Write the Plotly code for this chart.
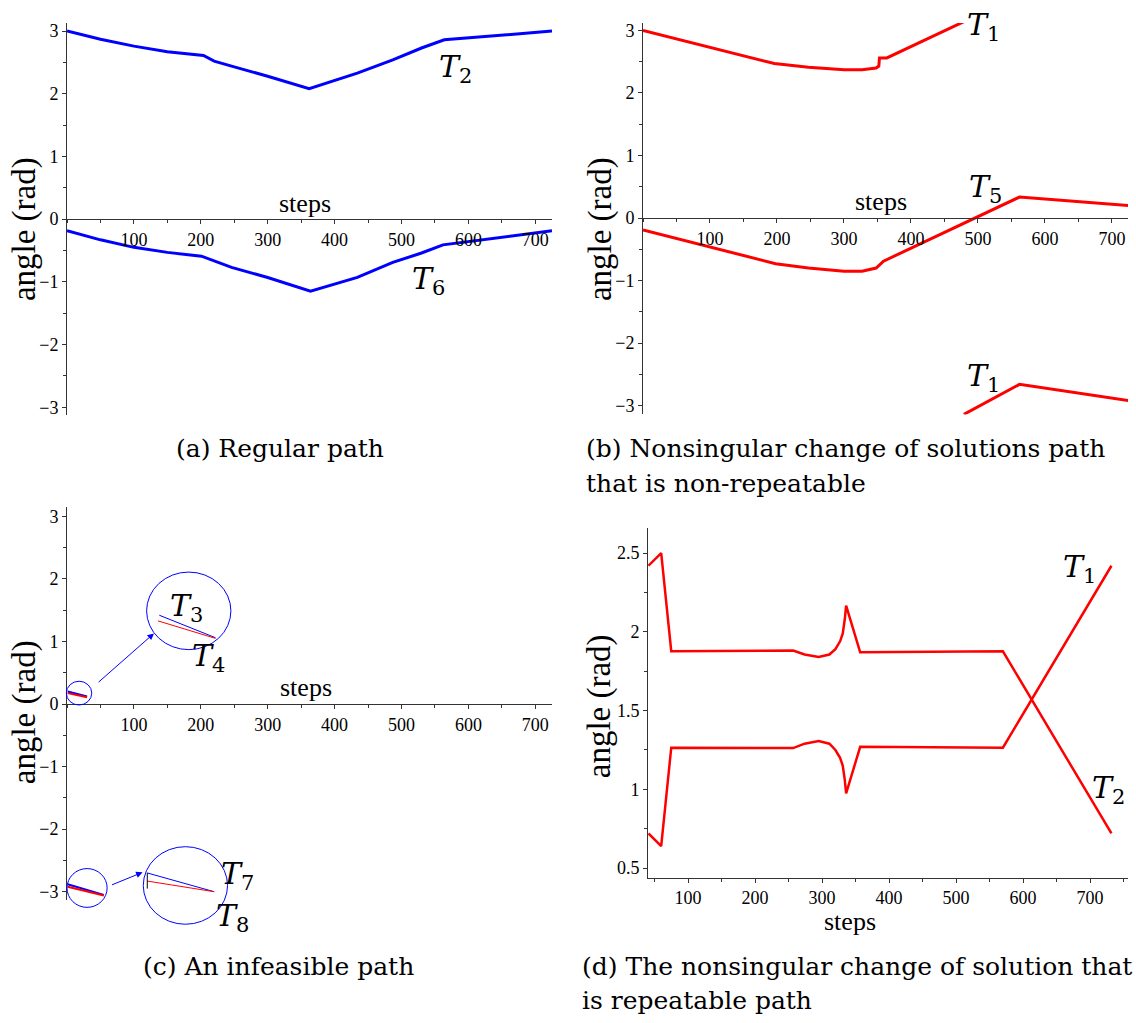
import plotly.graph_objects as go

W, H = 1136, 1023
BLUE = "#0000ff"
RED = "#ff0000"
SERIF = "Liberation Serif"
CAP_FONT = "DejaVu Serif"

# (a) regular path
a_t2_steps = [0, 50, 100, 150, 204, 220, 246, 284, 300, 362, 434, 487, 530, 564, 725]
a_t2 = [3.0, 2.87, 2.76, 2.67, 2.61, 2.52, 2.44, 2.33, 2.28, 2.08, 2.33, 2.54, 2.73, 2.86, 3.0]
a_t6_steps = [0, 50, 100, 150, 201, 246, 300, 364, 434, 487, 530, 562, 725]
a_t6 = [-0.185, -0.33, -0.45, -0.53, -0.59, -0.77, -0.93, -1.15, -0.93, -0.69, -0.54, -0.41, -0.185]

# (b) non-repeatable change of solutions
b_t1_steps = [0, 196, 247, 300, 327, 348, 352, 353, 364, 479]
b_t1 = [3.0, 2.47, 2.41, 2.37, 2.37, 2.40, 2.43, 2.56, 2.56, 3.14]
b_t5_steps = [0, 198, 247, 300, 327, 348, 359, 562, 725]
b_t5 = [-0.19, -0.73, -0.80, -0.85, -0.85, -0.80, -0.69, 0.335, 0.2]
b_t1w_steps = [479, 562, 725]
b_t1w = [-3.14, -2.66, -2.92]

# (c) infeasible path: short segments and their magnified copies
c_seg_steps = [1, 30]
c_t3 = [0.20, 0.12]
c_t4 = [0.175, 0.11]
c_t3_zoom_steps = [138, 222]
c_t3_zoom = [1.42, 1.06]
c_t4_zoom_steps = [136, 222]
c_t4_zoom = [1.33, 1.05]
c_low_steps = [1, 55]
c_t7 = [-2.88, -3.05]
c_t8 = [-2.92, -3.06]
c_low_zoom_steps = [120, 220]
c_t7_zoom = [-2.70, -3.0]
c_t8_zoom = [-2.83, -3.0]
c_mark_steps = [120, 120]
c_mark = [-2.70, -2.95]
# magnifier circles: centre step, centre angle, radius in steps, radius in rad
c_circles = [(18, 0.175, 19, 0.19), (182, 1.49, 63, 0.62),
             (30, -2.94, 30, 0.31), (177, -2.90, 63, 0.62)]
# arrows: tail (step, angle) -> head (step, angle)
c_arrows = [((45, 0.33), (130, 1.13)), ((65, -2.90), (113, -2.69))]

# (d) repeatable change of solutions
d_steps = [41, 60, 75, 257, 274, 295, 311, 320, 327, 331, 334, 336, 357, 570, 732]
d_t1 = [2.42, 2.50, 1.877, 1.881, 1.856, 1.84, 1.856, 1.89, 1.94, 1.99, 2.08, 2.166, 1.87, 1.877, 0.72]
d_t2 = [0.72, 0.64, 1.265, 1.262, 1.29, 1.307, 1.29, 1.25, 1.20, 1.15, 1.06, 0.975, 1.27, 1.265, 2.42]

step_ticks = [100, 200, 300, 400, 500, 600, 700]

# panel boxes in pixels: left, right, top, bottom, x range, y range
panels = {
    "": (67, 552, 21, 415, [0, 725], [-3.13, 3.13]),
    "2": (643, 1128, 21, 414, [0, 724], [-3.14, 3.12]),
    "3": (67, 552, 507, 902, [0, 725], [-3.14, 3.15]),
    "4": (648, 1128, 528, 879, [40.3, 756.7], [0.44, 2.66]),
}


def to_paper(p, x, y):
    l, r, t, b, xr, yr = panels[p]
    px = l + (x - xr[0]) / (xr[1] - xr[0]) * (r - l)
    py = b - (y - yr[0]) / (yr[1] - yr[0]) * (b - t)
    return px / W, 1 - py / H


fig = go.Figure()


def line(x, y, color, width, p):
    fig.add_trace(go.Scatter(x=x, y=y, mode="lines", line=dict(color=color, width=width),
                             xaxis="x" + p, yaxis="y" + p, hoverinfo="skip", showlegend=False))


line(a_t2_steps, a_t2, BLUE, 3, "")
line(a_t6_steps, a_t6, BLUE, 3, "")
line(b_t1_steps, b_t1, RED, 3, "2")
line(b_t5_steps, b_t5, RED, 3, "2")
line(b_t1w_steps, b_t1w, RED, 3, "2")
line(c_seg_steps, c_t3, BLUE, 2, "3")
line(c_seg_steps, c_t4, RED, 2, "3")
line(c_t3_zoom_steps, c_t3_zoom, BLUE, 1, "3")
line(c_t4_zoom_steps, c_t4_zoom, RED, 1, "3")
line(c_low_steps, c_t7, BLUE, 2, "3")
line(c_low_steps, c_t8, RED, 2, "3")
line(c_low_zoom_steps, c_t7_zoom, BLUE, 1, "3")
line(c_low_zoom_steps, c_t8_zoom, RED, 1, "3")
line(c_mark_steps, c_mark, "black", 1, "3")
line(d_steps, d_t1, RED, 2.5, "4")
line(d_steps, d_t2, RED, 2.5, "4")

tick_font = dict(family=SERIF, size=18, color="black")
layout = dict(width=W, height=H, margin=dict(l=0, r=0, t=0, b=0), autosize=False,
              plot_bgcolor="white", paper_bgcolor="white", showlegend=False)

for p, (l, r, t, b, xr, yr) in panels.items():
    xd = [l / W, r / W]
    yd = [1 - b / H, 1 - t / H]
    xa = dict(domain=xd, range=xr, showline=True, linecolor="#333", linewidth=1,
              ticks="outside", ticklen=4, tickcolor="#333", tickvals=step_ticks,
              minor=dict(tick0=0, dtick=50, ticks="outside", ticklen=3, tickcolor="#333"),
              showgrid=False, zeroline=False, tickfont=tick_font, fixedrange=True)
    ya = dict(domain=yd, range=yr, anchor="x" + p, showline=True, linecolor="#333",
              linewidth=1, ticks="outside", ticklen=4, tickcolor="#333", showgrid=False,
              zeroline=False, tickfont=tick_font, fixedrange=True)
    if p == "4":
        xa.update(anchor="y4")
        ya.update(tick0=0, dtick=0.5,
                  minor=dict(tick0=0, dtick=0.25, ticks="outside", ticklen=3, tickcolor="#333"))
    else:
        # x axis crosses at angle = 0
        xa.update(anchor="free", position=yd[0] + (0 - yr[0]) / (yr[1] - yr[0]) * (yd[1] - yd[0]))
        ya.update(tick0=0, dtick=1,
                  minor=dict(tick0=0, dtick=0.5, ticks="outside", ticklen=3, tickcolor="#333"))
    layout["xaxis" + p] = xa
    layout["yaxis" + p] = ya

fig.update_layout(**layout)

ann = []


def ptext(text, x, y, size, family=SERIF, **kw):
    kw.setdefault("xanchor", "center")
    ann.append(dict(text=text, x=x / W, y=1 - y / H, xref="paper", yref="paper", showarrow=False,
                    yanchor="middle", font=dict(family=family, size=size, color="black"), **kw))


def label(text, x, y, p, size=30):
    px, py = to_paper(p, x, y)
    ptext(text, px * W, (1 - py) * H, size, CAP_FONT)


label("<i>T</i><sub>2</sub>", 580, 2.40, "")
label("<i>T</i><sub>6</sub>", 540, -0.98, "")
label("<i>T</i><sub>1</sub>", 508, 3.07, "2")
label("<i>T</i><sub>5</sub>", 512, 0.48, "2")
label("<i>T</i><sub>1</sub>", 508, -2.55, "2")
label("<i>T</i><sub>3</sub>", 178, 1.55, "3")
label("<i>T</i><sub>4</sub>", 212, 0.74, "3")
label("<i>T</i><sub>7</sub>", 255, -2.74, "3")
label("<i>T</i><sub>8</sub>", 247, -3.42, "3")
label("<i>T</i><sub>1</sub>", 684, 2.40, "4")
label("<i>T</i><sub>2</sub>", 727, 1.0, "4")

for (tx, ty), (hx, hy) in c_arrows:
    ann.append(dict(x=hx, y=hy, ax=tx, ay=ty, xref="x3", yref="y3", axref="x3", ayref="y3",
                    showarrow=True, arrowhead=2, arrowsize=1.3, arrowwidth=1, arrowcolor=BLUE,
                    text=""))

for cx, cy, rx, ry in c_circles:
    x0, y0 = to_paper("3", cx - rx, cy - ry)
    x1, y1 = to_paper("3", cx + rx, cy + ry)
    fig.add_shape(type="circle", xref="paper", yref="paper", x0=x0, x1=x1, y0=y0, y1=y1,
                  line=dict(color=BLUE, width=1))

# axis names
for x, y in [(305, 202), (881, 200), (306, 688), (850, 923)]:
    ptext("steps", x, y, 26)
for x, y in [(24, 228), (600, 228), (24, 713), (599, 707)]:
    ptext("angle (rad)", x, y, 33, textangle=-90)

# captions
ptext("(a) Regular path", 280, 448, 25, CAP_FONT)
ptext("(b) Nonsingular change of solutions path", 584, 448, 25, CAP_FONT, xanchor="left")
ptext("that is non-repeatable", 584, 483, 25, CAP_FONT, xanchor="left")
ptext("(c) An infeasible path", 278, 968, 25, CAP_FONT)
ptext("(d) The nonsingular change of solution that", 580, 968, 25, CAP_FONT, xanchor="left")
ptext("is repeatable path", 580, 1002, 25, CAP_FONT, xanchor="left")

fig.update_layout(annotations=ann)
fig.write_html("out.html", config={"displayModeBar": False},
               post_script="document.body.style.margin='0';")
